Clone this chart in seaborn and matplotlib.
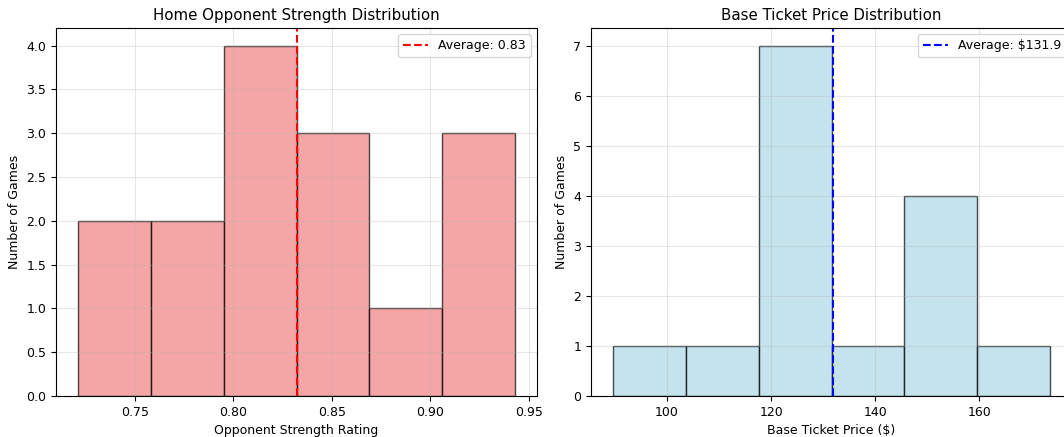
import numpy as np
import pandas as pd
import matplotlib
matplotlib.use("Agg")
import matplotlib.pyplot as plt
import seaborn as sns

# Opponent strength ratings (15 home games)
opponent_strength = [0.721, 0.75, 0.77, 0.78, 0.80, 0.81, 0.82, 0.82,
                     0.846, 0.85, 0.86, 0.88, 0.91, 0.92, 0.943]
# Base ticket prices ($)
ticket_price = [89.6, 115.0, 118.0, 119.0, 120.0, 122.0, 124.0, 126.0,
                128.3, 138.0, 148.0, 150.0, 152.0, 155.0, 173.6]

df = pd.DataFrame({"strength": opponent_strength, "price": ticket_price})

plt.rcParams["font.family"] = ["DejaVu Sans"]

fig = plt.figure(figsize=(10.64, 4.37), dpi=100)
W, H = 1064, 437
ax1 = fig.add_axes([56 / W, (H - 396) / H, 481 / W, 368 / H])
ax2 = fig.add_axes([591 / W, (H - 396) / H, 481 / W, 368 / H])

# Gráfico 1 - força do adversário
sns.histplot(data=df, x="strength", bins=6, color="lightcoral", alpha=0.7,
             edgecolor=(0, 0, 0, 0.7), linewidth=1, ax=ax1)
avg_s = df["strength"].mean()
ax1.axvline(avg_s, color="red", linestyle="--", linewidth=1.5,
            label=f"Average: {avg_s:.2f}")
ax1.set_title("Home Opponent Strength Distribution", fontsize=10.8)
ax1.set_xlabel("Opponent Strength Rating", fontsize=9)
ax1.set_ylabel("Number of Games", fontsize=9)
ax1.tick_params(labelsize=9)
ax1.legend(fontsize=9, loc="upper right")
ax1.grid(True, alpha=0.3)

# Gráfico 2 - preço do ingresso
sns.histplot(data=df, x="price", bins=6, color="lightblue", alpha=0.7,
             edgecolor=(0, 0, 0, 0.7), linewidth=1, ax=ax2)
avg_p = df["price"].mean()
ax2.axvline(avg_p, color="blue", linestyle="--", linewidth=1.5,
            label=f"Average: ${avg_p:.1f}")
ax2.set_title("Base Ticket Price Distribution", fontsize=10.8)
ax2.set_xlabel("Base Ticket Price ($)", fontsize=9)
ax2.set_ylabel("Number of Games", fontsize=9)
ax2.tick_params(labelsize=9)
ax2.legend(fontsize=9, loc="upper right")
ax2.grid(True, alpha=0.3)

fig.savefig("out.png", dpi=100)
